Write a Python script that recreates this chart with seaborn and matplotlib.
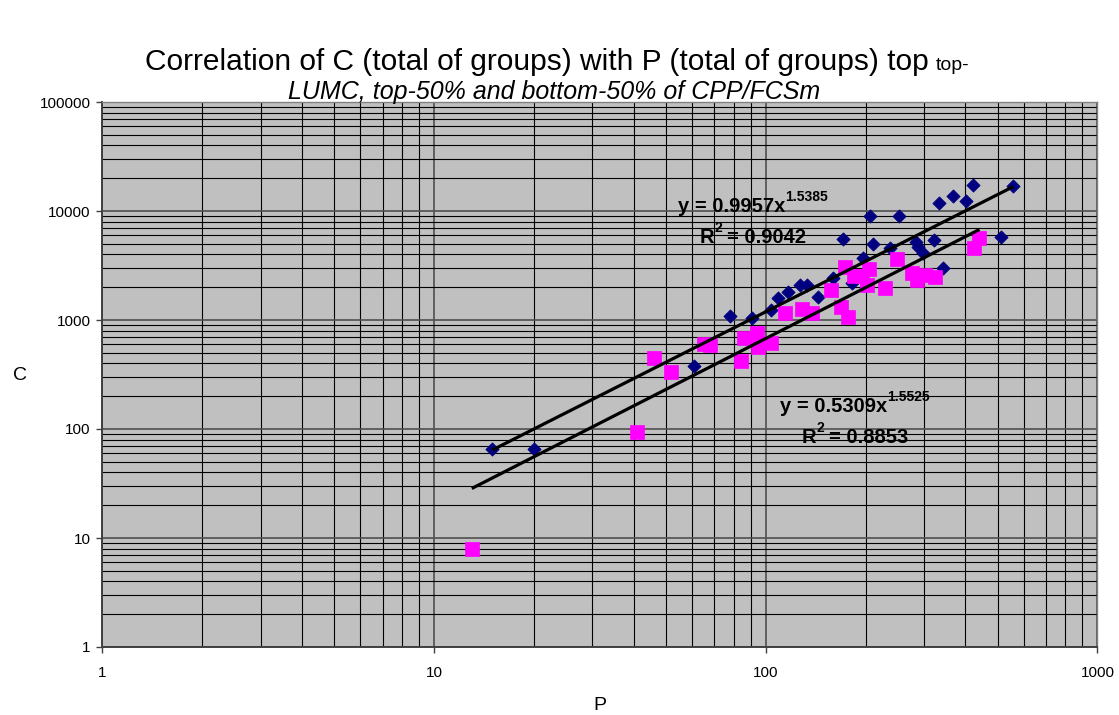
import matplotlib
matplotlib.use("Agg")
import matplotlib.pyplot as plt
import seaborn as sns
import numpy as np
import pandas as pd
from matplotlib.ticker import LogLocator, FixedLocator, FuncFormatter, NullFormatter
from matplotlib.transforms import IdentityTransform

# top-LUMC / top-50% of CPP/FCSm (blue diamonds)
p_top = [15, 20, 61, 78, 91, 104, 109, 117, 127, 133, 144, 159, 171, 182, 196,
         206, 210, 237, 253, 284, 288, 297, 322, 334, 342, 368, 402, 423, 512, 558]
c_top = [66, 66, 378, 1095, 1037, 1236, 1582, 1820, 2095, 2095, 1636, 2413, 5497, 2172, 3681,
         9055, 4980, 4549, 8997, 5229, 4645, 4093, 5419, 11770, 2980, 13730, 12430, 17320, 5738, 16960]

# bottom-50% of CPP/FCSm (magenta squares)
p_bot = [13, 41, 46, 52, 65, 68, 84, 86, 94, 95, 104, 114, 129, 138, 157,
         169, 173, 177, 184, 195, 202, 205, 229, 248, 276, 285, 302, 324, 425, 441]
c_bot = [8, 93, 451, 333, 602, 595, 421, 679, 765, 569, 619, 1152, 1254, 1152, 1884,
         1324, 3083, 1072, 2520, 2535, 2095, 2918, 1954, 3607, 2682, 2328, 2588, 2496, 4549, 5617]

# power-law trendlines shown on the chart
fit_top = (0.9957, 1.5385, "0.9042")
fit_bot = (0.5309, 1.5525, "0.8853")

df_top = pd.DataFrame({"P": p_top, "C": c_top})
df_bot = pd.DataFrame({"P": p_bot, "C": c_bot})

plt.rcParams["font.family"] = ["Liberation Sans", "DejaVu Sans"]

W, H = 1119, 715
fig = plt.figure(figsize=(W / 100, H / 100), dpi=100)
ax = fig.add_axes([102.3 / W, 68 / H, 995.1 / W, 545 / H])
ax.set_facecolor("#C0C0C0")

sns.scatterplot(data=df_top, x="P", y="C", marker="D", s=46, color="#000080",
                edgecolor="#000080", linewidth=0.5, ax=ax, zorder=3, legend=False)
sns.scatterplot(data=df_bot, x="P", y="C", marker="s", s=105, color="#FF00FF",
                edgecolor="#FF00FF", linewidth=0.5, ax=ax, zorder=4, legend=False)

for df, (a, b, _) in [(df_top, fit_top), (df_bot, fit_bot)]:
    xs = np.array([df["P"].min(), df["P"].max()], dtype=float)
    ax.plot(xs, a * xs ** b, color="black", lw=2.3, zorder=5, solid_capstyle="butt")

ax.set_xscale("log")
ax.set_yscale("log")
ax.set_xlim(1, 1000)
ax.set_ylim(1, 100000)

fmt = FuncFormatter(lambda v, _: f"{int(round(v))}")
ax.xaxis.set_major_locator(FixedLocator([1, 10, 100, 1000]))
ax.yaxis.set_major_locator(FixedLocator([1, 10, 100, 1000, 10000, 100000]))
ax.xaxis.set_major_formatter(fmt)
ax.yaxis.set_major_formatter(fmt)
ax.xaxis.set_minor_locator(LogLocator(base=10, subs=range(2, 10)))
ax.yaxis.set_minor_locator(LogLocator(base=10, subs=range(2, 10)))
ax.xaxis.set_minor_formatter(NullFormatter())
ax.yaxis.set_minor_formatter(NullFormatter())

ax.grid(True, which="major", color="#505050", lw=1.2, zorder=1)
ax.grid(True, which="minor", color="#000000", lw=0.8, zorder=1)
ax.set_axisbelow(True)

ax.tick_params(which="major", direction="out", length=4.5, width=1, color="#404040",
               labelsize=11, labelcolor="black")
ax.tick_params(axis="x", which="major", pad=9)
ax.tick_params(axis="y", which="major", pad=4)
ax.tick_params(which="minor", length=0)
for side in ["left", "bottom"]:
    ax.spines[side].set_color("#404040")
    ax.spines[side].set_linewidth(1.4)
for side in ["top", "right"]:
    ax.spines[side].set_color("#808080")
    ax.spines[side].set_linewidth(1.0)
ax.set_xlabel("")
ax.set_ylabel("")

fig.text(20 / W, 1 - 375 / H, "C", fontsize=14, ha="center", va="center")
fig.text(600 / W, 1 - 705 / H, "P", fontsize=14, ha="center", va="center")

fig.canvas.draw()
rend = fig.canvas.get_renderer()


def put_runs(x0, base, runs, center=False):
    # runs: (text, size, raise_px, gap_px, extra kwargs); coordinates in image pixels
    items = []
    for s, size, dy, gap, kw in runs:
        t = fig.text(0, 0, s, fontsize=size, ha="left", va="baseline",
                     transform=IdentityTransform(), **kw)
        w = t.get_window_extent(rend).width
        items.append((t, dy, gap, w))
    total = sum(w + g for _, _, g, w in items)
    cx = x0 - total / 2 if center else x0
    for t, dy, gap, w in items:
        cx += gap
        t.set_position((cx, H - base + dy))
        cx += w


bold = {"fontweight": "bold"}
for (a, b, r2), (x0, y0) in [(fit_top, (678, 212)), (fit_bot, (780, 412))]:
    put_runs(x0, y0, [(f"y = {a:.4f}x", 14.5, 0, 0, bold),
                      (f"{b:.4f}", 10, 11, 0, bold)])
    put_runs(x0 + 22, y0 + 31, [("R", 14.5, 0, 0, bold),
                                ("2", 10, 11, 0, bold),
                                (f"= {r2}", 14.5, 0, 5, bold)])

put_runs(557, 70, [("Correlation of C (total of groups) with P (total of groups) top", 21.5, 0, 0, {}),
                   ("top-", 14, 0, 7, {})], center=True)
put_runs(554, 99, [("LUMC, top-50% and bottom-50% of CPP/FCSm", 18, 0, 0, {"style": "italic"})],
         center=True)

fig.savefig("out.png", dpi=100)
